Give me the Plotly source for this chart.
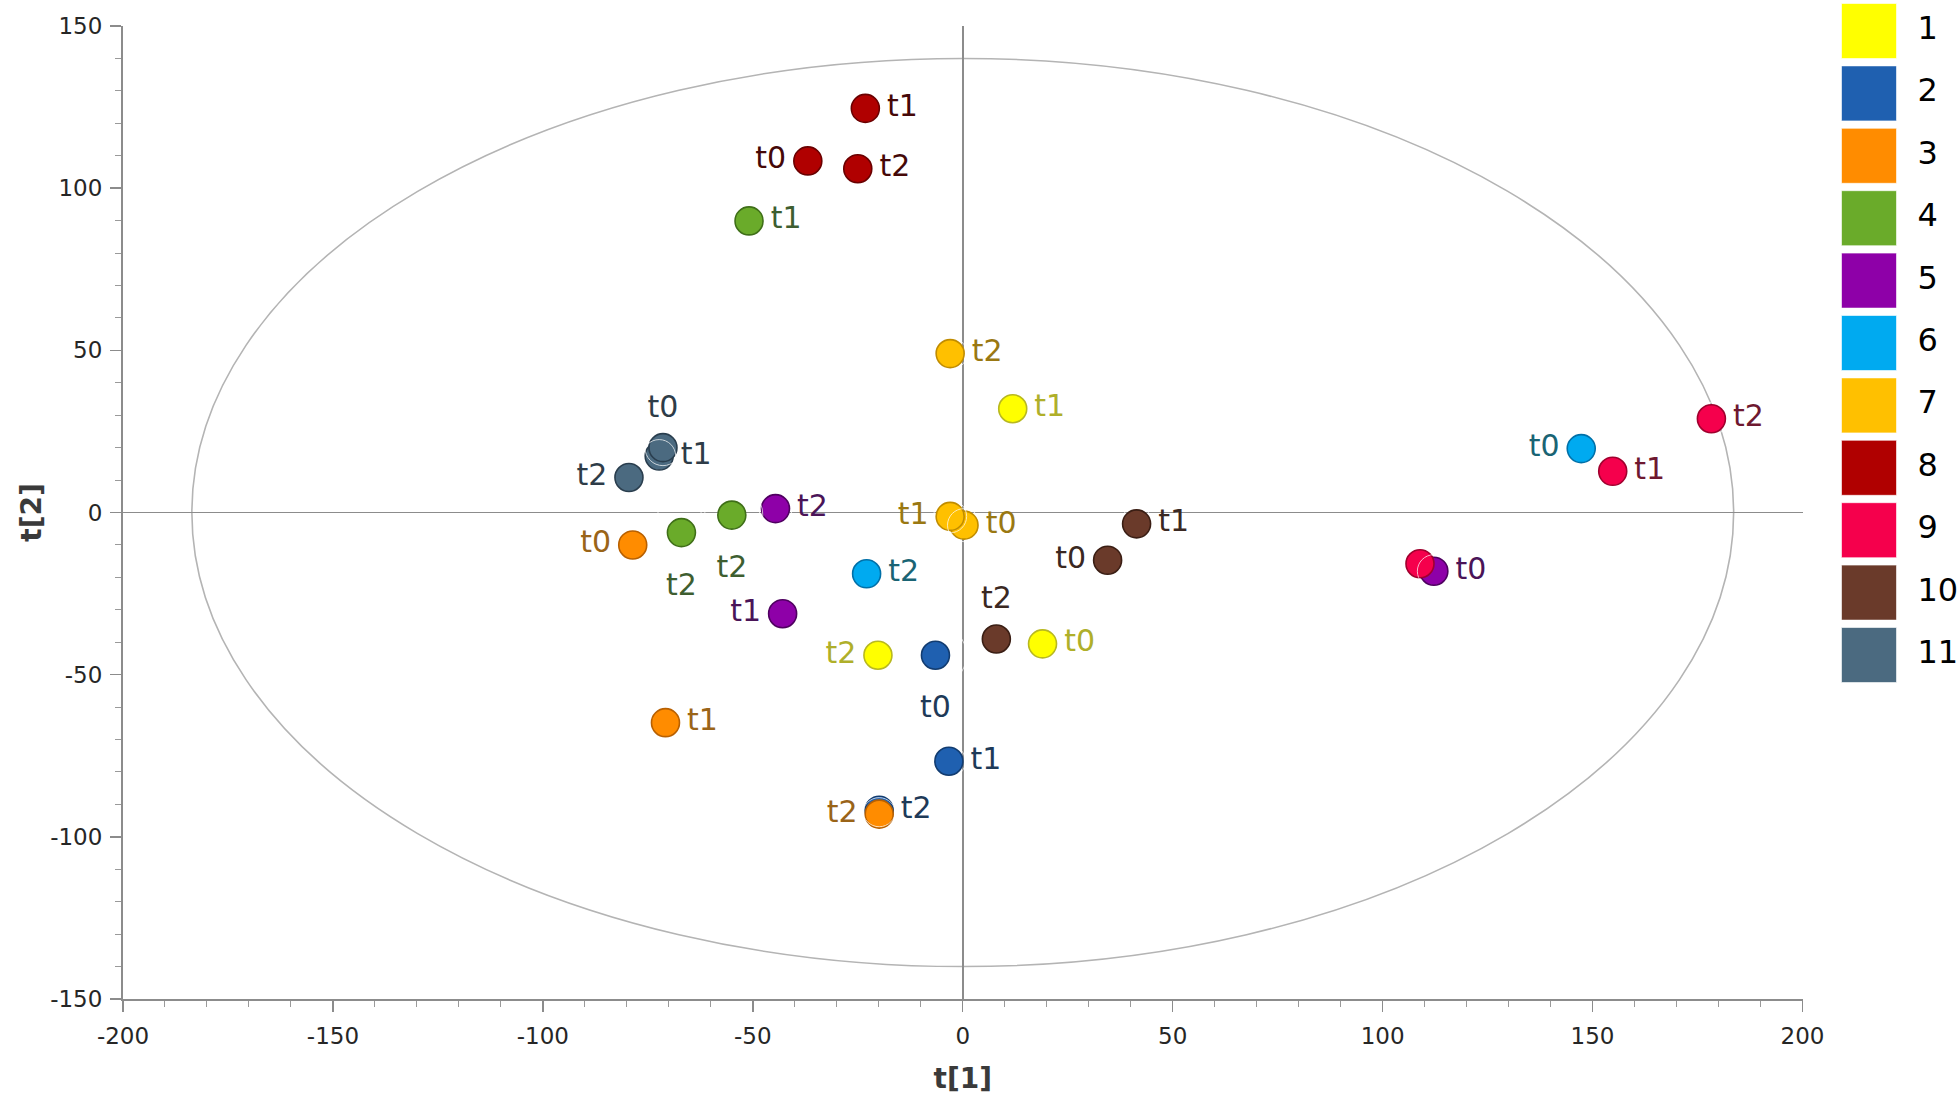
import plotly.graph_objects as go

# ---------------- data ----------------
groups = ["1", "2", "3", "4", "5", "6", "7", "8", "9", "10", "11"]
group_colors = ["#FFFF00", "#1F60B0", "#FF8C00", "#6AAB2A", "#8E00A8", "#00AAF0",
                "#FFC000", "#B00000", "#F5004C", "#6A3A2A", "#4B6A80"]
edge_colors = ["#B8B820", "#123C70", "#B86000", "#3F6F18", "#4F0060", "#0070A8",
               "#C08C00", "#6A0000", "#A0002E", "#3A1E14", "#2A3E4E"]
label_colors = ["#AFAF2A", "#1E3A58", "#9A6418", "#3E5E30", "#4A1458", "#1A6474",
                "#9A7812", "#450808", "#6E1830", "#3A2822", "#2E3C48"]

pt_group = ["1", "1", "1",
            "2", "2", "2",
            "3", "3", "3",
            "4", "4", "4",
            "5", "5", "5",
            "6", "6",
            "7", "7", "7",
            "8", "8", "8",
            "9", "9", "9",
            "10", "10", "10",
            "11", "11", "11"]
pt_label = ["t1", "t2", "t0",
            "t0", "t1", "t2",
            "t0", "t1", "t2",
            "t1", "t2", "t2",
            "t2", "t1", "t0",
            "t2", "t0",
            "t2", "t0", "t1",
            "t1", "t0", "t2",
            "t2", "t1", "t0",
            "t1", "t0", "t2",
            "t2", "t1", "t0"]
pt_t1 = [11.9, -20.2, 19.0,
         -6.5, -3.3, -19.9,
         -78.6, -70.8, -19.9,
         -50.9, -67.0, -55.0,
         -44.6, -42.9, 112.2,
         -22.9, 147.3,
         -3.0, 0.3, -3.0,
         -23.2, -36.9, -25.0,
         178.3, 154.8, 108.9,
         41.4, 34.5, 8.0,
         -79.5, -72.3, -71.4]
pt_t2 = [32.0, -44.0, -40.5,
         -44.0, -76.7, -91.8,
         -10.0, -64.8, -93.0,
         89.9, -6.2, -0.8,
         1.2, -31.2, -18.1,
         -18.9, 19.7,
         49.0, -3.9, -1.2,
         124.6, 108.4, 106.0,
         28.9, 12.7, -15.8,
         -3.5, -14.7, -39.0,
         10.8, 17.4, 20.0]

# label placement (style); None = label not drawn
pt_textpos = ["middle right", "middle left", "middle right",
              "bottom center", "middle right", "middle right",
              "middle left", "middle right", "middle left",
              "middle right", "bottom center", "bottom center",
              "middle right", "middle left", "middle right",
              "middle right", "middle left",
              "middle right", "middle right", "middle left",
              "middle right", "middle left", "middle right",
              "middle right", "middle right", None,
              "middle right", "middle left", "top center",
              "middle left", "middle right", "top center"]

x_tickvals = [-200, -150, -100, -50, 0, 50, 100, 150, 200]
x_ticktext = ["-200", "-150", "-100", "-50", "0", "50", "100", "150", "200"]
y_tickvals = [-150, -100, -50, 0, 50, 100, 150]
y_ticktext = ["-150", "-100", "-50", "0", "50", "100", "150"]

# Hotelling T2 ellipse semi-axes
ellipse_a = 183.6
ellipse_b = 140.0

# ---------------- layout geometry ----------------
W, H = 1960, 1102
ML, MR, MT = 123, 0, 26
bot_px = 999
MB = H - bot_px
plot_w = W - ML - MR
main_right_px = 1802.5
x_dom_end = (main_right_px - ML) / plot_w

LABEL_FONT = "DejaVu Sans, Verdana, sans-serif"
off_size = {"middle right": 33, "middle left": 33, "top center": 36, "bottom center": 62}

fig = go.Figure()

for gi, g in enumerate(groups):
    idx = [i for i, pg in enumerate(pt_group) if pg == g]
    xs = [pt_t1[i] for i in idx]
    ys = [pt_t2[i] for i in idx]
    fig.add_trace(go.Scatter(
        x=xs, y=ys, mode="markers",
        marker=dict(size=28, color=group_colors[gi],
                    line=dict(color=edge_colors[gi], width=1.6)),
        showlegend=False, name=g, hoverinfo="skip", xaxis="x", yaxis="y"))

# point labels (invisible anchor markers set the label offsets)
for gi, g in enumerate(groups):
    idx = [i for i, pg in enumerate(pt_group) if pg == g and pt_textpos[i]]
    fig.add_trace(go.Scatter(
        x=[pt_t1[i] for i in idx], y=[pt_t2[i] for i in idx],
        mode="markers+text", text=[pt_label[i] for i in idx],
        textposition=[pt_textpos[i] for i in idx],
        textfont=dict(family=LABEL_FONT, size=30, color=label_colors[gi]),
        marker=dict(size=[off_size[pt_textpos[i]] for i in idx], color="rgba(0,0,0,0)"),
        showlegend=False, hoverinfo="skip", xaxis="x", yaxis="y"))

# legend panel
leg_y = list(range(1, len(groups) + 1))
fig.add_trace(go.Scatter(
    x=[0] * len(groups), y=leg_y, mode="markers",
    marker=dict(symbol="square", size=55, color=group_colors,
                line=dict(color="rgba(255,255,255,0.6)", width=1)),
    showlegend=False, hoverinfo="skip", xaxis="x2", yaxis="y2", cliponaxis=False))
fig.add_trace(go.Scatter(
    x=[0] * len(groups), y=leg_y, mode="markers+text", text=groups,
    textposition="middle right",
    textfont=dict(family=LABEL_FONT, size=32, color="#000000"),
    marker=dict(size=76, color="rgba(0,0,0,0)"),
    showlegend=False, hoverinfo="skip", xaxis="x2", yaxis="y2", cliponaxis=False))

fig.add_shape(type="circle", xref="x", yref="y",
              x0=-ellipse_a, x1=ellipse_a, y0=-ellipse_b, y1=ellipse_b,
              line=dict(color="#B4B4B4", width=1.6), layer="below")

# legend y range so that rows sit at the reference pixel rows
top_px = MT
row1_px, row11_px = 31.0, 655.0
span = bot_px - top_px
f1 = (bot_px - row1_px) / span
f11 = (bot_px - row11_px) / span
tb = (1 - 11) / (f1 - f11)
b_val = 1 - f1 * tb
t_val = b_val + tb

leg_x0_px, leg_x1_px = 1831, W
leg_center_px = 1869
frac = (leg_center_px - leg_x0_px) / (leg_x1_px - leg_x0_px)

tick_font = dict(family="DejaVu Sans, Verdana, sans-serif", size=23, color="#262626")
title_font = dict(family="DejaVu Sans, sans-serif", size=28, color="#3A3A3A")

fig.update_layout(
    width=W, height=H,
    margin=dict(l=ML, r=MR, t=MT, b=MB, autoexpand=False),
    paper_bgcolor="white", plot_bgcolor="white",
    xaxis=dict(domain=[0, x_dom_end], range=[-200, 200],
               tickmode="array", tickvals=x_tickvals, ticktext=x_ticktext,
               showgrid=False, zeroline=True, zerolinecolor="#8C8C8C", zerolinewidth=1.6,
               showline=True, linecolor="#8C8C8C", linewidth=2,
               ticks="outside", ticklen=11, tickcolor="#8C8C8C", tickwidth=1.4,
               minor=dict(dtick=10, ticks="outside", ticklen=6, tickcolor="#9A9A9A", tickwidth=1),
               tickfont=tick_font, ticklabelstandoff=4,
               title=dict(text="<b>t[1]</b>", standoff=21, font=title_font),
               automargin=False, anchor="y"),
    yaxis=dict(domain=[0, 1], range=[-150, 150],
               tickmode="array", tickvals=y_tickvals, ticktext=y_ticktext,
               showgrid=False, zeroline=True, zerolinecolor="#8C8C8C", zerolinewidth=1.6,
               showline=True, linecolor="#8C8C8C", linewidth=2,
               ticks="outside", ticklen=11, tickcolor="#8C8C8C", tickwidth=1.4,
               minor=dict(dtick=10, ticks="outside", ticklen=6, tickcolor="#9A9A9A", tickwidth=1),
               tickfont=tick_font, ticklabelstandoff=3,
               title=dict(text="<b>t[2]</b>", standoff=0, font=title_font),
               automargin=False, anchor="x"),
    xaxis2=dict(domain=[(leg_x0_px - ML) / plot_w, 1.0],
                range=[-frac, 1 - frac], visible=False, fixedrange=True, anchor="y2"),
    yaxis2=dict(domain=[0, 1], range=[b_val, t_val], visible=False, fixedrange=True, anchor="x2"),
    hovermode=False,
)

fig.write_html(
    "out.html",
    config={"displayModeBar": False, "staticPlot": True},
    post_script="document.body.style.margin='0';document.body.style.overflow='hidden';",
)
